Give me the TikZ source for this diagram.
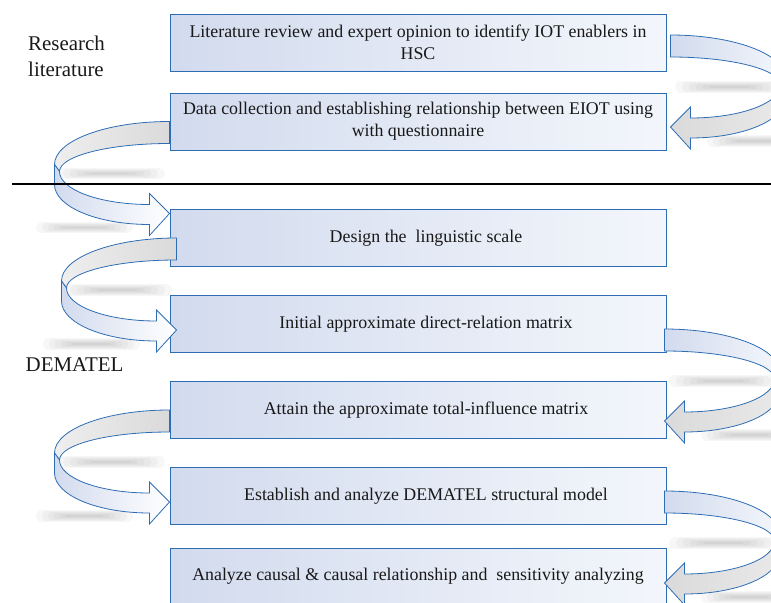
\documentclass[tikz,border=0pt]{standalone}
\usepackage{fontspec}
\setmainfont{Liberation Serif}
\usetikzlibrary{calc}

\definecolor{boxedge}{RGB}{46,109,180}
\definecolor{boxfill}{RGB}{210,219,238}
\definecolor{boxlight}{RGB}{243,246,251}
\definecolor{backgrey}{RGB}{218,218,218}

\begin{document}
\begin{tikzpicture}
        [x=0.75pt,y=-0.75pt,
         every node/.style={font=\fontsize{13.4}{16.5}\selectfont,text=black!90},
         stage box/.style={draw=boxedge,line width=0.75pt,left color=boxfill,right color=boxlight,
                           minimum width=372pt,minimum height=42.75pt,align=center,inner sep=2pt},
         side label/.style={font=\fontsize{15.7}{19.5}\selectfont,anchor=west,align=left},
         back band/.style={draw=boxedge,line width=0.6pt,left color=backgrey!45,right color=backgrey},
         front band/.style={draw=boxedge,line width=0.6pt,left color=boxfill,right color=white},
         upper band/.style={back band},
         lower band/.style={front band},
         strip/.style={black,opacity=0.03,line cap=round},
         twist/.pic={
           % shadow strips
           \foreach \k in {0,...,5}{
             \draw[strip,line width={(6-\k)*1.4pt}] (-108+6*\k,52) -- (-10-6*\k,52);
             \draw[strip,line width={(6-\k)*1.4pt}] (-128+5*\k,106) -- (-42-5*\k,106);
           }
           % ribbon
           \path[upper band] (0,0) .. controls (-63.5,0) and (-115,19.3) .. (-115,43)
               -- (-110,50) .. controls (-110,34.5) and (-60.8,22) .. (0,22) -- cycle;
           \path[lower band] (-115,43) -- (-115,63) .. controls (-115,85.1) and (-72.5,103) .. (-20,103)
               -- (-20,114) -- (0,92) -- (-20,72) -- (-20,83)
               .. controls (-69.7,83) and (-110,68.2) .. (-110,50) -- cycle;
         }]
        \clip (0,0) rectangle (771,603);

        %Stages
        \node[stage box] (S1) at (418,42.5)  {Literature review and expert opinion to identify IOT enablers in\\HSC};
        \node[stage box] (S2) at (418,121.5) {Data collection and establishing relationship between EIOT using\\with questionnaire};
        \node[stage box] (S3) at (418,238)   {\hspace*{12pt}Design the~ linguistic scale};
        \node[stage box] (S4) at (418,324)   {\hspace*{12pt}Initial approximate direct-relation matrix};
        \node[stage box] (S5) at (418,410)   {\hspace*{12pt}Attain the approximate total-influence matrix};
        \node[stage box] (S6) at (418,496)   {\hspace*{12pt}Establish and analyze DEMATEL structural model};
        \node[stage box] (S7) at (418,576.5) {Analyze causal \& causal relationship and~ sensitivity analyzing};

        %Side labels
        \node[side label] (RL) at (23.5,56) {Research\\literature};
        \node[side label] (DM) at (21,365)  {DEMATEL};

        %Left turns
        \pic at (S2.west) {twist};
        \pic at ($(S3.west)+(7,0)$) {twist};
        \pic at (S5.west) {twist};

        %Right turns
        \pic[xscale=-1,upper band/.style={front band,left color=boxfill,right color=boxlight},
             lower band/.style={back band,left color=backgrey,right color=backgrey!60}]
             at ($(S1.east)+(4,-7.5)$) {twist};
        \pic[xscale=-1,upper band/.style={front band,left color=boxfill,right color=boxlight},
             lower band/.style={back band,left color=backgrey,right color=backgrey!60}]
             at ($(S4.east)+(-2,5)$) {twist};
        \pic[xscale=-1,upper band/.style={front band,left color=boxfill,right color=boxlight},
             lower band/.style={back band,left color=backgrey,right color=backgrey!60}]
             at ($(S6.east)+(-2,-5)$) {twist};

        %Divider
        \coordinate (D1) at (12,184);
        \coordinate (D2) at (780,184);
        \draw[line width=1.5pt] (D1) -- (D2);
\end{tikzpicture}
\end{document}
